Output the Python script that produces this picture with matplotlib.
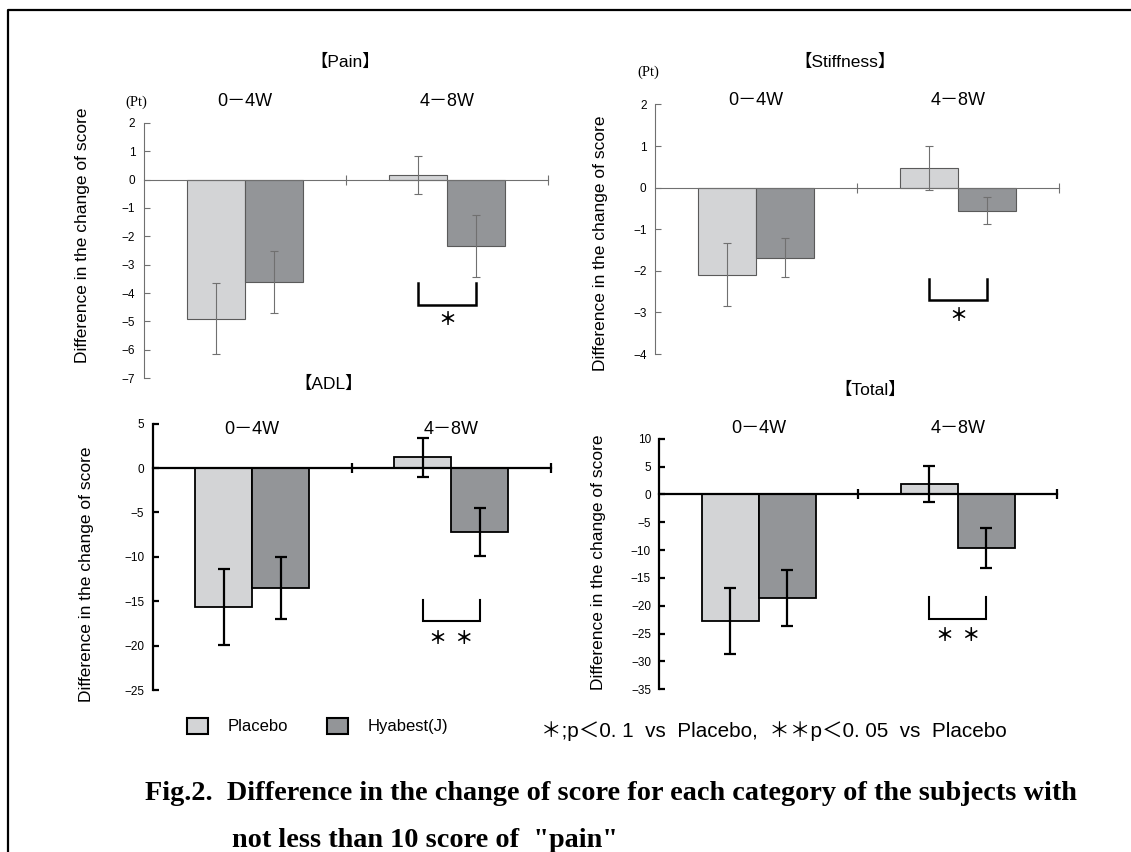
import matplotlib
matplotlib.use("Agg")
import matplotlib.pyplot as plt
import matplotlib.patches as mpatches
from matplotlib.lines import Line2D
from matplotlib.transforms import blended_transform_factory
import numpy as np

# data
periods = ["0－4W", "4－8W"]
groups = ["Placebo", "Hyabest(J)"]

pain_placebo = [-4.9, 0.15]
pain_placebo_err = [1.26, 0.67]
pain_hyabest = [-3.6, -2.34]
pain_hyabest_err = [1.1, 1.1]

stiff_placebo = [-2.09, 0.48]
stiff_placebo_err = [0.75, 0.53]
stiff_hyabest = [-1.68, -0.55]
stiff_hyabest_err = [0.47, 0.33]

adl_placebo = [-15.66, 1.22]
adl_placebo_err = [4.3, 2.2]
adl_hyabest = [-13.54, -7.22]
adl_hyabest_err = [3.5, 2.7]

total_placebo = [-22.75, 1.88]
total_placebo_err = [6.0, 3.2]
total_hyabest = [-18.6, -9.66]
total_hyabest_err = [5.0, 3.6]

# significance marks (only 4-8W): label, bracket top / bottom, star level
pain_sig = ("＊", -3.64, -4.42, -4.93)
stiff_sig = ("＊", -2.19, -2.71, -3.08)
adl_sig = ("＊  ＊", -14.9, -17.25, -19.2)
total_sig = ("＊  ＊", -18.5, -22.4, -25.3)

W, H = 1131, 852
SANS = ["Liberation Sans", "Noto Sans CJK JP"]
c_placebo = "#d3d4d6"
c_hyabest = "#939598"

fig = plt.figure(figsize=(W / 100, H / 100), dpi=100)
fig.patch.set_facecolor("white")


def px_axes(l, t, r, b):
    return fig.add_axes([l / W, 1 - b / H, (r - l) / W, (b - t) / H])


def panel(box, title, title_xy, head_y, placebo, perr, hyabest, herr,
          ylim, ystep, sig, ylab_xy, pt_xy=None, bold=False):
    ax = px_axes(*box)
    x = np.arange(len(periods)) + 0.5
    bw = 0.286
    if bold:
        lc, elw, spw, blw, cap = "black", 1.6, 1.6, 1.3, 4
    else:
        lc, elw, spw, blw, cap = "#707070", 0.8, 0.8, 0.8, 3
    ax.bar(x - bw / 2, placebo, bw, color=c_placebo,
           edgecolor="black" if bold else "#5a5a5a", linewidth=blw, zorder=2)
    ax.bar(x + bw / 2, hyabest, bw, color=c_hyabest,
           edgecolor="black" if bold else "#5a5a5a", linewidth=blw, zorder=2)
    ax.errorbar(x - bw / 2, placebo, yerr=perr, fmt="none", ecolor=lc,
                elinewidth=elw, capsize=cap, capthick=elw, zorder=3)
    ax.errorbar(x + bw / 2, hyabest, yerr=herr, fmt="none", ecolor=lc,
                elinewidth=elw, capsize=cap, capthick=elw, zorder=3)

    ax.set_xlim(0, 2)
    ax.set_ylim(*ylim)
    ax.set_yticks(np.arange(ylim[0], ylim[1] + ystep / 2, ystep))
    ax.set_xticks([1, 2])
    ax.set_xticklabels([])
    for s in ["top", "right"]:
        ax.spines[s].set_visible(False)
    ax.spines["bottom"].set_position(("data", 0))
    for s in ["left", "bottom"]:
        ax.spines[s].set_color(lc)
        ax.spines[s].set_linewidth(spw)
    ax.tick_params(axis="y", direction="in", length=4, width=spw, color=lc,
                   labelsize=8.5, pad=6)
    ax.tick_params(axis="x", direction="inout", length=7, width=spw, color=lc)
    for lab in ax.get_yticklabels():
        lab.set_family(SANS)
    ax.patch.set_alpha(0)

    # period headers
    tr = blended_transform_factory(ax.transData, fig.transFigure)
    for xi, p in zip(x, periods):
        ax.text(xi, 1 - head_y / H, p, transform=tr, ha="center", va="center",
                fontsize=13, family=SANS)

    # significance bracket
    star, top, bot, sy = sig
    x1, x2 = x[1] - bw / 2, x[1] + bw / 2
    ax.plot([x1, x1, x2, x2], [top, bot, bot, top], color="black",
            lw=1.8 if not bold else 1.5, solid_joinstyle="miter", zorder=4)
    ax.text(x[1], sy, star, ha="center", va="center", fontsize=13,
            family=["Noto Sans CJK JP"], weight="bold")

    fig.text(title_xy[0] / W, 1 - title_xy[1] / H, title, ha="center",
             va="center", fontsize=12.5, family=SANS)
    fig.text(ylab_xy[0] / W, 1 - ylab_xy[1] / H,
             "Difference in the change of score", rotation=90, ha="center",
             va="center", fontsize=12.5, family=SANS)
    if pt_xy is not None:
        fig.text(pt_xy[0] / W, 1 - pt_xy[1] / H, "(Pt)", ha="center",
                 va="center", fontsize=10.5, family="Liberation Serif")
    return ax


panel((143.6, 122.9, 548.2, 378.1), "【Pain】", (345, 62), 101.8,
      pain_placebo, pain_placebo_err, pain_hyabest, pain_hyabest_err,
      (-7, 2), 1, pain_sig, (83, 235), pt_xy=(136, 102))
panel((654.8, 104.4, 1059.4, 354.1), "【Stiffness】", (845, 61.5), 100.8,
      stiff_placebo, stiff_placebo_err, stiff_hyabest, stiff_hyabest_err,
      (-4, 2), 1, stiff_sig, (601, 243), pt_xy=(648, 72))
panel((152.7, 423.6, 550.7, 690.1), "【ADL】", (329, 384), 429,
      adl_placebo, adl_placebo_err, adl_hyabest, adl_hyabest_err,
      (-25, 5), 5, adl_sig, (87, 574), bold=True)
panel((659.4, 438.7, 1057.3, 689.2), "【Total】", (870, 390), 428,
      total_placebo, total_placebo_err, total_hyabest, total_hyabest_err,
      (-35, 10), 5, total_sig, (599, 562), bold=True)

# legend
handles = [mpatches.Patch(facecolor=c_placebo, edgecolor="black", linewidth=1.5),
           mpatches.Patch(facecolor=c_hyabest, edgecolor="black", linewidth=1.5)]
fs = 12
fpx = fs * 100 / 72
leg = fig.legend(handles, groups, loc="center left",
                 bbox_to_anchor=(187 / W, 1 - 726 / H), ncol=2, frameon=False,
                 borderpad=0, borderaxespad=0, handlelength=21 / fpx,
                 handleheight=18 / fpx, handletextpad=20 / fpx,
                 columnspacing=38 / fpx, prop={"family": SANS, "size": fs})

r = fig.canvas.get_renderer()

note = fig.text(541 / W, 1 - 731 / H,
                "＊;p＜0. 1  vs  Placebo,  ＊＊p＜0. 05  vs  Placebo",
                ha="left", va="center", fontsize=12, family=SANS)
note.set_fontsize(12 * (1005 - 541) / note.get_window_extent(r).width)

# caption, sized to the width it takes in the original
cap1 = fig.text(145 / W, 1 - 800 / H,
                "Fig.2.  Difference in the change of score for each category of the subjects with",
                ha="left", va="baseline", fontsize=20, family="Liberation Serif",
                weight="bold")
cap2 = fig.text(232 / W, 1 - 847 / H,
                "not less than 10 score of  \"pain\"",
                ha="left", va="baseline", fontsize=20, family="Liberation Serif",
                weight="bold")
new = 20 * (1073 - 145) / cap1.get_window_extent(r).width
cap1.set_fontsize(new)
cap2.set_fontsize(new)

# frame lines
fig.add_artist(Line2D([8 / W, 8 / W, 1], [0, 1 - 10 / H, 1 - 10 / H],
                      color="black", lw=1.6, transform=fig.transFigure))

fig.savefig("out.png", dpi=100)
